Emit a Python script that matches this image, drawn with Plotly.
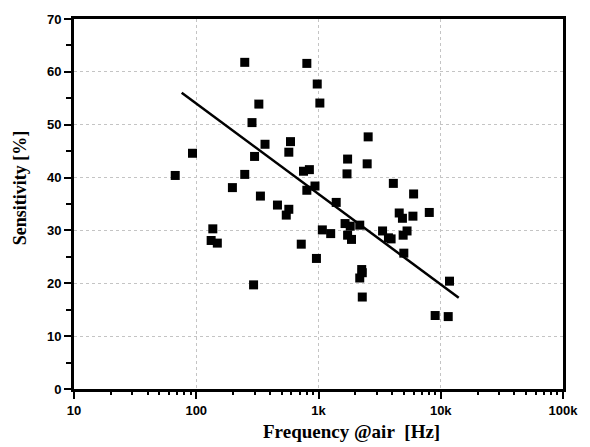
import plotly.graph_objects as go

# Measured data (frequency in Hz, sensitivity in %)
freq_hz = [67.3, 93.2, 136.6, 132.4, 148.7, 197.6, 249.3, 249.3, 285.8, 299.9,
           294.4, 325.1, 334.9, 365.2, 461.6, 571.8, 545.0, 590.0, 571.8, 754.2,
           842.3, 802.8, 935.9, 802.8, 722.8, 962.0, 976.3, 1026, 1075, 1258,
           1396, 1649, 1818, 1730, 1711, 1730, 1862, 2175, 2256, 2281,
           2175, 2281, 2548, 2501, 3342, 3734, 3925, 4094, 4574, 4860,
           4988, 4924, 5301, 5921, 5998, 8058, 9000, 11510, 11790]
sensitivity = [40.4, 44.6, 30.3, 28.1, 27.6, 38.1, 61.8, 40.6, 50.4, 44.0,
               19.7, 53.9, 36.5, 46.3, 34.8, 34.0, 32.9, 46.8, 44.8, 41.2,
               41.5, 37.6, 38.4, 61.6, 27.4, 24.7, 57.7, 54.1, 30.1, 29.4,
               35.3, 31.3, 30.8, 43.5, 40.7, 29.1, 28.3, 31.0, 22.6, 22.0,
               21.0, 17.4, 47.7, 42.6, 29.9, 28.6, 28.4, 38.9, 33.3, 32.3,
               25.7, 29.1, 29.9, 32.7, 36.9, 33.4, 13.9, 13.7, 20.4]

# Linear fit line (in log-frequency) endpoints
fit_freq = [76, 14030]
fit_sens = [56.05, 17.26]

x_tickvals = [10, 100, 1000, 10000, 100000]
x_ticktext = ["10", "100", "1k", "10k", "100k"]
y_tickvals = [0, 10, 20, 30, 40, 50, 60, 70]
y_ticktext = ["0", "10", "20", "30", "40", "50", "60", "70"]

x_minor = [m * 10 ** d for d in range(1, 5) for m in range(2, 10)]

fig = go.Figure()
fig.add_trace(go.Scatter(
    x=freq_hz, y=sensitivity, mode="markers",
    marker=dict(symbol="square", size=9, color="black"),
    showlegend=False, hoverinfo="skip"))
fig.add_trace(go.Scatter(
    x=fit_freq, y=fit_sens, mode="lines",
    line=dict(color="black", width=2.5),
    showlegend=False, hoverinfo="skip"))
# invisible trace to activate the minor-tick helper axis
fig.add_trace(go.Scatter(
    x=fit_freq, y=fit_sens, mode="lines", xaxis="x2",
    line=dict(color="rgba(0,0,0,0)", width=0),
    showlegend=False, hoverinfo="skip"))

tickfont = dict(family="Liberation Sans, Arial, sans-serif", size=13, color="black")

fig.update_layout(
    width=590, height=447,
    margin=dict(l=74, r=17, t=13, b=58),
    paper_bgcolor="white", plot_bgcolor="white",
    xaxis=dict(
        type="log", range=[1, 5],
        tickmode="array",
        tickvals=x_tickvals, ticktext=["<b>%s</b>" % t for t in x_ticktext],
        tickfont=tickfont,
        ticks="outside", ticklen=7, tickwidth=2, tickcolor="black",
        showline=True, linewidth=3, linecolor="black", mirror=True,
        showgrid=True, gridcolor="#c4c4c4", griddash="dot", gridwidth=1,
        zeroline=False,
    ),
    xaxis2=dict(
        type="log", range=[1, 5], overlaying="x", anchor="y", side="bottom",
        tickmode="array", tickvals=x_minor, showticklabels=False,
        ticks="outside", ticklen=5, tickwidth=2, tickcolor="black",
        showline=False, showgrid=False, zeroline=False,
    ),
    yaxis=dict(
        range=[0, 70],
        tickmode="array",
        tickvals=y_tickvals, ticktext=["<b>%s</b>" % t for t in y_ticktext],
        tickfont=tickfont,
        ticks="outside", ticklen=7, tickwidth=2, tickcolor="black",
        showline=True, linewidth=3, linecolor="black", mirror=True,
        showgrid=True, gridcolor="#c4c4c4", griddash="dot", gridwidth=1,
        zeroline=False,
        minor=dict(dtick=5, ticks="outside", ticklen=5, tickwidth=2,
                   tickcolor="black", showgrid=False),
    ),
    annotations=[
        dict(text="<b>Frequency @air\u00a0 [Hz]</b>", x=357, y=447 - 432,
             xref="paper", yref="paper", showarrow=False,
             xanchor="center", yanchor="middle",
             font=dict(family="Liberation Serif, Times New Roman, serif",
                       size=19, color="black")),
        dict(text="<b>Sensitivity [%]</b>", x=19, y=447 - 185,
             xref="paper", yref="paper", showarrow=False, textangle=-90,
             xanchor="center", yanchor="middle",
             font=dict(family="Liberation Serif, Times New Roman, serif",
                       size=18, color="black")),
    ],
)

# Convert annotation pixel positions to paper coordinates
plot_w = 590 - 74 - 17
plot_h = 447 - 13 - 58
for ann in fig.layout.annotations:
    ann.x = (ann.x - 74) / plot_w
    ann.y = (ann.y - 58) / plot_h

fig.write_html("out.html", config={"displayModeBar": False},
               post_script="document.body.style.margin='0';document.body.style.padding='0';")
